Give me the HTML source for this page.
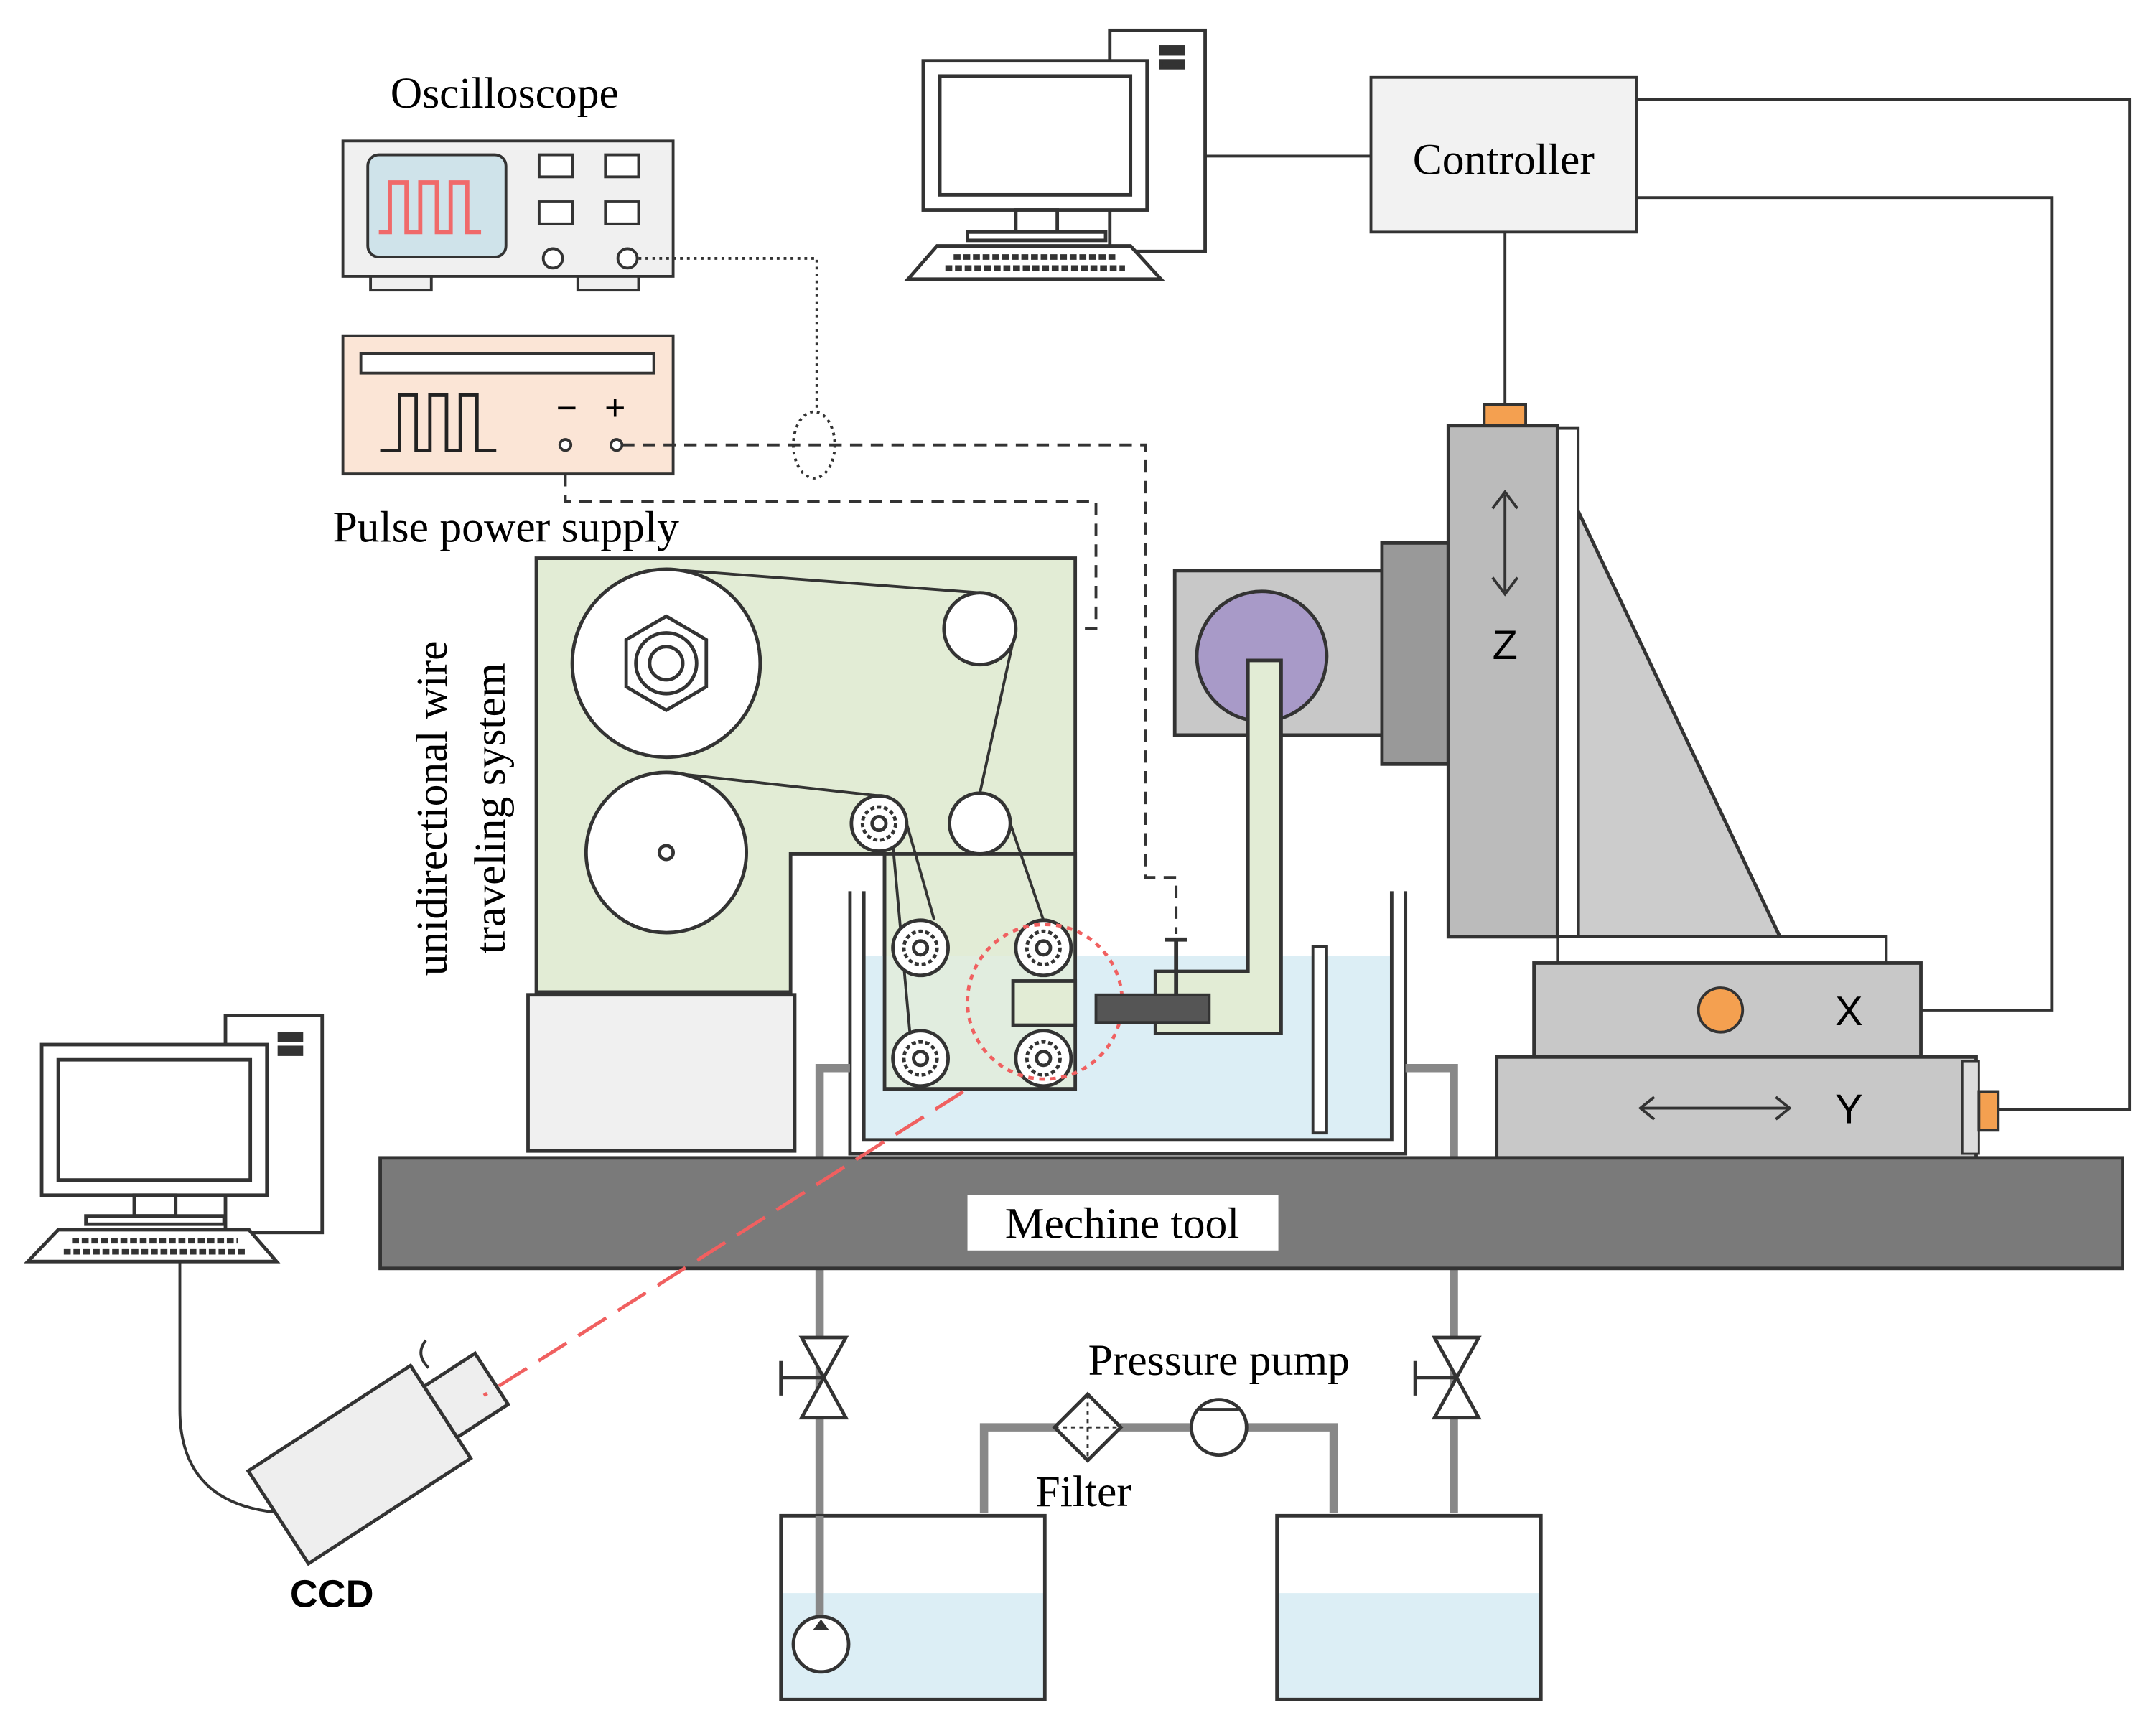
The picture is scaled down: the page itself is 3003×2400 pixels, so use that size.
<!DOCTYPE html>
<html><head><meta charset="utf-8"><style>html,body{margin:0;padding:0;background:#fff}svg{display:block}</style></head><body>
<svg width="3003" height="2400" viewBox="0 0 1560 1247" xmlns="http://www.w3.org/2000/svg" font-family="Liberation Serif, serif">
<g stroke="#333" stroke-width="2">
<rect x="248" y="102" width="239" height="98" fill="#f0f0f0"/>
<rect x="266" y="112" width="100" height="74" rx="8" fill="#cfe3ea"/>
<path d="M274 168 h8 v-36 h12 v36 h10 v-36 h12 v36 h10 v-36 h12 v36 h10" fill="none" stroke="#f06a6a" stroke-width="3"/>
<rect x="390" y="112" width="24" height="16" fill="#fff"/><rect x="438" y="112" width="24" height="16" fill="#fff"/>
<rect x="390" y="146" width="24" height="16" fill="#fff"/><rect x="438" y="146" width="24" height="16" fill="#fff"/>
<circle cx="400" cy="187" r="7" fill="#fff"/><circle cx="454" cy="187" r="7" fill="#fff"/>
<rect x="268" y="200" width="44" height="10" fill="#f0f0f0"/><rect x="418" y="200" width="44" height="10" fill="#f0f0f0"/>
<rect x="248" y="243" width="239" height="100" fill="#fbe5d6"/>
<rect x="261" y="256" width="212" height="14" fill="#fff"/>
<path d="M275 326 h14 v-40 h12 v40 h10 v-40 h12 v40 h10 v-40 h12 v40 h14" fill="none" stroke="#222" stroke-width="2.5"/>
<circle cx="409" cy="322" r="4" fill="#fff"/><circle cx="446" cy="322" r="4" fill="#fff"/>
</g>
<text x="410" y="304" font-size="26" text-anchor="middle" font-family="Liberation Sans,sans-serif">−</text>
<text x="445" y="304" font-size="26" text-anchor="middle" font-family="Liberation Sans,sans-serif">+</text>
<text x="365" y="78" font-size="32" text-anchor="middle">Oscilloscope</text>
<text x="366" y="392" font-size="32" text-anchor="middle">Pulse power supply</text>
<path d="M462 187 H591 V298" fill="none" stroke="#333" stroke-width="2" stroke-dasharray="2,3"/>
<ellipse cx="589" cy="322" rx="15" ry="24" fill="none" stroke="#333" stroke-width="2" stroke-dasharray="2,3"/>
<path d="M450 322 H829 V635 H851 V676" fill="none" stroke="#333" stroke-width="2" stroke-dasharray="9,6"/>
<path d="M409 343 V363 H793 V455 H737" fill="none" stroke="#333" stroke-width="2" stroke-dasharray="9,6"/>
<g stroke="#333" stroke-width="2" fill="none">
<path d="M872 113 H992 M1089 168 V293 M1184 72 H1541 V803 H1446 M1184 143 H1485 V731 H1390"/>
</g>
<rect x="992" y="56" width="192" height="112" fill="#f2f2f2" stroke="#333" stroke-width="2"/>
<text x="1088" y="126" font-size="32" text-anchor="middle">Controller</text>
<g stroke="#333" stroke-width="2.5" fill="#fff">
<rect x="803" y="22" width="69" height="160"/>
<rect x="668" y="44" width="162" height="108"/>
<rect x="680" y="55" width="138" height="86" fill="none"/>
<rect x="735" y="152" width="30" height="16"/>
<rect x="700" y="168" width="100" height="6"/>
<path d="M678 178 H818 L840 202 H657 Z"/>
<rect x="840" y="34" width="16" height="5" fill="#333"/><rect x="840" y="44" width="16" height="5" fill="#333"/>
<path d="M690 186 H808 M684 194 H814" stroke-dasharray="5,2" stroke-width="4"/>
</g>
<g stroke="#333" stroke-width="2.5" fill="#fff">
<rect x="163" y="735" width="70" height="157"/>
<rect x="30" y="756" width="163" height="109"/>
<rect x="42" y="767" width="139" height="87" fill="none"/>
<rect x="97" y="865" width="30" height="15"/>
<rect x="62" y="880" width="100" height="6"/>
<path d="M42 890 H180 L200 913 H20 Z"/>
<rect x="202" y="748" width="16" height="5" fill="#333"/><rect x="202" y="758" width="16" height="5" fill="#333"/>
<path d="M52 898 H172 M46 906 H178" stroke-dasharray="5,2" stroke-width="4"/>
<path d="M130 913 V1020 Q130 1090 205 1095" fill="none" stroke-width="2"/>
</g>
<g transform="translate(260,1060) rotate(-33)" stroke="#333" stroke-width="2.5" fill="#eee">
<rect x="-70" y="-40" width="140" height="80"/>
<rect x="70" y="-22" width="44" height="44"/>
</g>
<path d="M310 990 q-10 -10 -2 -20" fill="none" stroke="#333" stroke-width="2"/>
<text x="240" y="1163" font-size="28" text-anchor="middle" font-family="Liberation Sans,sans-serif" font-weight="bold">CCD</text>
<polygon points="388,404 778,404 778,788 640,788 640,618 572,618 572,718 388,718" fill="#e2ecd5" stroke="#333" stroke-width="2.5"/>
<rect x="382" y="720" width="193" height="113" fill="#f0f0f0" stroke="#333" stroke-width="2.5"/>
<rect x="625" y="692" width="382" height="133" fill="#dceef5"/>
<path d="M615 645 V835 H1017 V645 M625 645 V825 H1007 V645" fill="none" stroke="#333" stroke-width="2.5"/>
<rect x="950" y="685" width="10" height="135" fill="#fff" stroke="#333" stroke-width="2"/>
<rect x="640" y="618" width="138" height="170" fill="#e2ecd5" fill-opacity="0.7" stroke="#333" stroke-width="2.5"/>
<g stroke="#333" stroke-width="2" fill="none">
<path d="M482 412 L709 429 M735 455 L709 574 M731 596 L755 666 M482 559 L636 576 M656 596 L676 666"/>
<path d="M660 766 L645 600"/>
</g>
<g stroke="#333" stroke-width="2.5" fill="#fff">
<circle cx="482" cy="480" r="68"/>
<polygon points="482,446 511,463 511,497 482,514 453,497 453,463" fill="#fff"/>
<circle cx="482" cy="480" r="22"/><circle cx="482" cy="480" r="12"/>
<circle cx="482" cy="617" r="58"/>
<circle cx="482" cy="617" r="5"/>
<circle cx="709" cy="455" r="26"/>
<circle cx="709" cy="596" r="22"/>
</g>
<g stroke="#333" stroke-width="2.5" fill="#fff">
<g transform="translate(636,596)"><circle r="20"/><circle r="12" stroke-dasharray="3,2"/><circle r="5"/></g>
<g transform="translate(666,686)"><circle r="20"/><circle r="12" stroke-dasharray="3,2"/><circle r="5"/></g>
<g transform="translate(755,686)"><circle r="20"/><circle r="12" stroke-dasharray="3,2"/><circle r="5"/></g>
<g transform="translate(666,766)"><circle r="20"/><circle r="12" stroke-dasharray="3,2"/><circle r="5"/></g>
<g transform="translate(755,766)"><circle r="20"/><circle r="12" stroke-dasharray="3,2"/><circle r="5"/></g>
</g>
<rect x="733" y="710" width="45" height="32" fill="#e2ecd5" stroke="#333" stroke-width="2.5"/>
<circle cx="756" cy="725" r="56" fill="none" stroke="#f06060" stroke-width="2.5" stroke-dasharray="4,4"/>
<text transform="translate(323,585) rotate(-90)" font-size="32" text-anchor="middle">unidirectional wire</text>
<text transform="translate(365,585) rotate(-90)" font-size="32" text-anchor="middle">traveling system</text>
<rect x="850" y="413" width="150" height="119" fill="#c8c8c8" stroke="#333" stroke-width="2.5"/>
<rect x="1000" y="393" width="48" height="160" fill="#999" stroke="#333" stroke-width="2.5"/>
<circle cx="913" cy="475" r="47" fill="#a89ac8" stroke="#333" stroke-width="2.5"/>
<polygon points="903,478 927,478 927,748 836,748 836,703 903,703" fill="#e2ecd5" stroke="#333" stroke-width="2.5"/>
<rect x="793" y="720" width="82" height="20" fill="#555" stroke="#333" stroke-width="2"/>
<path d="M851 680 V720 M843 680 H859" stroke="#333" stroke-width="3"/>
<polygon points="1142,370 1142,678 1288,678" fill="#ccc" stroke="#333" stroke-width="2.5"/>
<rect x="1127" y="310" width="15" height="387" fill="#fff" stroke="#333" stroke-width="2"/>
<rect x="1048" y="308" width="79" height="370" fill="#bbb" stroke="#333" stroke-width="2.5"/>
<rect x="1074" y="293" width="30" height="15" fill="#f4a050" stroke="#333" stroke-width="2"/>
<path d="M1089 358 V428 M1080 368 L1089 356 L1098 368 M1080 418 L1089 430 L1098 418" fill="none" stroke="#333" stroke-width="2"/>
<text x="1089" y="477" font-size="30" text-anchor="middle" font-family="Liberation Sans,sans-serif">Z</text>
<rect x="1127" y="678" width="238" height="19" fill="#fff" stroke="#333" stroke-width="2"/>
<rect x="1110" y="697" width="280" height="68" fill="#c8c8c8" stroke="#333" stroke-width="2.5"/>
<circle cx="1245" cy="731" r="16" fill="#f4a050" stroke="#333" stroke-width="2"/>
<text x="1338" y="742" font-size="30" text-anchor="middle" font-family="Liberation Sans,sans-serif">X</text>
<rect x="1083" y="765" width="347" height="73" fill="#c8c8c8" stroke="#333" stroke-width="2.5"/>
<rect x="1420" y="768" width="12" height="67" fill="#ddd" stroke="#333" stroke-width="1.5"/>
<rect x="1432" y="790" width="14" height="28" fill="#f4a050" stroke="#333" stroke-width="2"/>
<path d="M1187 802 H1295 M1197 794 L1187 802 L1197 810 M1285 794 L1295 802 L1285 810" fill="none" stroke="#333" stroke-width="2"/>
<text x="1338" y="813" font-size="30" text-anchor="middle" font-family="Liberation Sans,sans-serif">Y</text>
<g stroke="#888" stroke-width="6" fill="none">
<path d="M615 773 H593 V1172"/>
<path d="M1017 773 H1052 V1095"/>
<path d="M712 1095 V1033 H765 M809 1033 H862 M902 1033 H965 V1095"/>
</g>
<rect x="275" y="838" width="1261" height="80" fill="#7a7a7a" stroke="#333" stroke-width="2.5"/>
<rect x="700" y="865" width="225" height="40" fill="#fff"/>
<text x="812" y="896" font-size="32" text-anchor="middle">Mechine tool</text>
<path d="M697 790 L350 1010" stroke="#f06060" stroke-width="2.5" stroke-dasharray="24,10"/>
<g stroke="#333" stroke-width="2.5" fill="#fff">
<path d="M580 968 H612 L580 1026 H612 Z"/><path d="M565 985 V1010 M565 997 H596"/>
<path d="M1038 968 H1070 L1038 1026 H1070 Z"/><path d="M1024 985 V1010 M1024 997 H1054"/>
<polygon points="787,1009 811,1033 787,1057 763,1033"/>
<path d="M787 1009 V1057 M763 1033 H811" stroke-dasharray="3,3" stroke-width="1.5"/>
<circle cx="882" cy="1033" r="20"/>
<path d="M868 1020 H896" stroke-width="2"/>
</g>
<text x="882" y="995" font-size="32" text-anchor="middle">Pressure pump</text>
<text x="784" y="1090" font-size="32" text-anchor="middle">Filter</text>
<rect x="566" y="1153" width="189" height="77" fill="#dceef5"/>
<rect x="925" y="1153" width="189" height="77" fill="#dceef5"/>
<rect x="565" y="1097" width="191" height="133" fill="none" stroke="#333" stroke-width="2.5"/>
<rect x="924" y="1097" width="191" height="133" fill="none" stroke="#333" stroke-width="2.5"/>
<path d="M593 1097 V1172" stroke="#888" stroke-width="6"/>
<circle cx="594" cy="1190" r="20" fill="#fff" stroke="#333" stroke-width="2.5"/>
<polygon points="594,1172 588,1180 600,1180" fill="#333"/>
</svg>
</body></html>
